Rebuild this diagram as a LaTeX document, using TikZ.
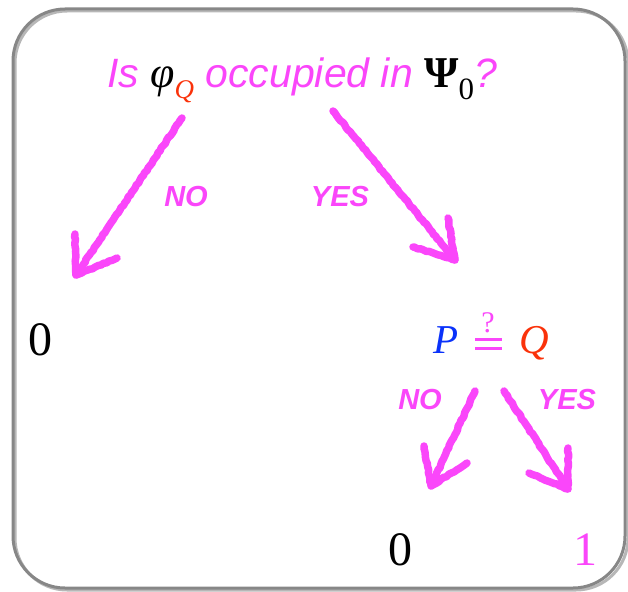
\documentclass[tikz,border=0pt]{standalone}
\usepackage{fontspec}
\setmainfont{Liberation Serif}
\newfontfamily\hv{Liberation Sans}
\newfontfamily\tm{Liberation Serif}
\usetikzlibrary{decorations.pathmorphing}
\definecolor{pk}{RGB}{250,70,250}
\definecolor{rq}{RGB}{250,50,10}
\definecolor{bp}{RGB}{10,50,250}
\definecolor{fr}{RGB}{135,135,135}
\tikzset{
  chalk/.style={draw=pk, line width=7.5pt, line cap=round, line join=round,
    decorate, decoration={random steps, segment length=3pt, amplitude=0.6pt}},
  lab/.style={text=pk, font=\hv\bfseries\itshape\fontsize{29}{32}\selectfont, inner sep=0pt},
  num/.style={font=\tm\fontsize{48}{52}\selectfont, inner sep=0pt},
  eq/.style={font=\tm\itshape\fontsize{41}{44}\selectfont, inner sep=0pt, anchor=base},
  bar/.style={draw=pk, line width=3pt}
}
\begin{document}
\begin{tikzpicture}[x=1pt,y=-1pt]
\useasboundingbox (0,0) rectangle (628,591);
\draw[fr!60!white, line width=3pt, rounded corners=52pt] (15,11) rectangle (628,590);
\draw[fr, line width=3pt, rounded corners=52pt] (13,9) rectangle (625,588);
\node[inner sep=0pt, anchor=base, text=pk] (q) at (302,88)
  {\hv\itshape\fontsize{41}{44}\selectfont Is \textcolor{black}{\tm\itshape\fontsize{44}{46}\selectfont φ\raisebox{-11pt}{\textcolor{rq}{\fontsize{27}{28}\selectfont Q}}} occupied in \textcolor{black}{\tm\bfseries\upshape\fontsize{44}{46}\selectfont Ψ\raisebox{-12pt}{\mdseries\fontsize{31}{32}\selectfont 0}}?};
\coordinate (a1s) at (182,118); \coordinate (a1t) at (76,275);
\coordinate (a2s) at (333,111); \coordinate (a2t) at (455,260);
\draw[chalk] (a1s) -- (a1t);
\draw[chalk] (75,234) -- (a1t) -- (117,258);
\draw[chalk] (a2s) -- (a2t);
\draw[chalk] (448,218) -- (a2t) -- (413,247);
\node[lab] (no1) at (186,197) {NO};
\node[lab] (yes1) at (340,197) {YES};
\node[num, anchor=base] (z1) at (40,355) {0};
\node[eq, text=bp] (p) at (446,353) {P};
\coordinate (e1) at (475,339.5); \coordinate (e2) at (502,339.5);
\coordinate (e3) at (475,348.5); \coordinate (e4) at (502,348.5);
\draw[bar] (e1) -- (e2);
\draw[bar] (e3) -- (e4);
\node[inner sep=0pt, anchor=base, text=pk, font=\tm\fontsize{30}{32}\selectfont] (qm) at (488,332) {?};
\node[eq, text=rq] (qq) at (534,353) {Q};
\coordinate (b1s) at (475,391); \coordinate (b1t) at (431,486);
\coordinate (b2s) at (504,391); \coordinate (b2t) at (568,489);
\draw[chalk] (b1s) -- (b1t);
\draw[chalk] (424,446) -- (b1t) -- (467,463);
\draw[chalk] (b2s) -- (b2t);
\draw[chalk] (568,448) -- (b2t) -- (529,473);
\node[lab] (no2) at (420,400) {NO};
\node[lab] (yes2) at (567,400) {YES};
\node[num, anchor=base] (z2) at (400,565) {0};
\node[num, anchor=base, text=pk] (o2) at (585,565) {1};
\end{tikzpicture}
\end{document}
